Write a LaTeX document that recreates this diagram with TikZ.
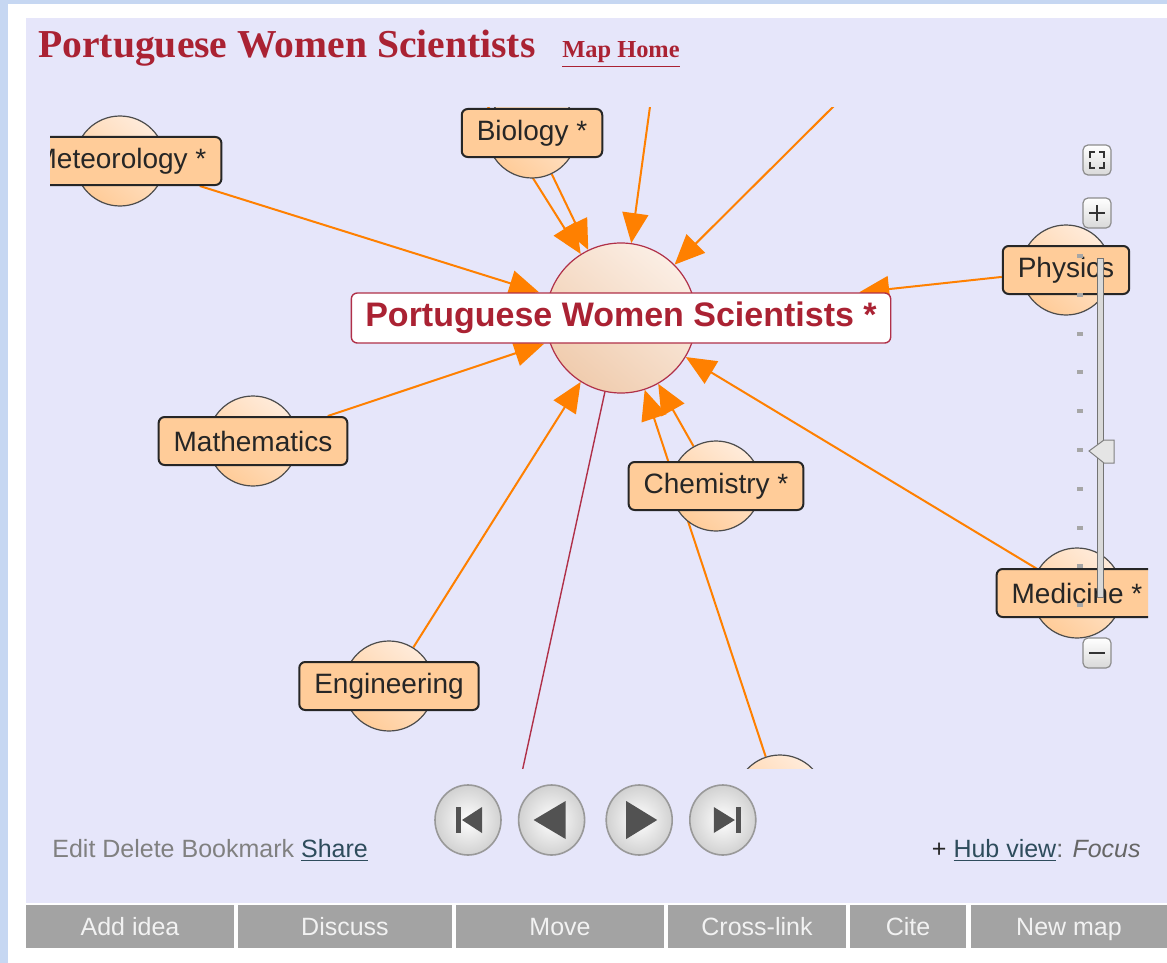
\documentclass[tikz,border=0pt]{standalone}
\usepackage{fontspec}
\setmainfont{Liberation Sans}
\newfontfamily\titlefont{Liberation Serif}
\usetikzlibrary{positioning,arrows.meta,shapes.geometric,calc}
\pgfdeclarelayer{backlayer}
\pgfdeclarelayer{edgelayer}
\pgfsetlayers{backlayer,edgelayer,main}
\definecolor{pagebg}{HTML}{C6D7F2}
\definecolor{panel}{HTML}{E6E6FA}
\definecolor{hubred}{HTML}{AA2233}
\definecolor{linkorange}{HTML}{FF8000}
\definecolor{peach}{HTML}{FFCC99}
\definecolor{peachlight}{HTML}{FFEBDA}
\definecolor{hubdark}{HTML}{F0CCAE}
\definecolor{hublight}{HTML}{FBEEE4}
\definecolor{crossred}{HTML}{B03048}
\definecolor{btngray}{HTML}{A3A3A3}
\definecolor{linkblue}{HTML}{2E4C5C}
\tikzset{
  topic/.style={circle, draw=black!70, line width=0.6pt, minimum size=45pt,
    inner sep=0pt, top color=peachlight, bottom color=peach, shading angle=-40},
  tag/.style={draw=black!85, line width=1pt, rounded corners=3pt, fill=peach,
    text=black!85, font=\fontsize{14}{16}\selectfont,
    minimum height=24pt, inner xsep=7.5pt, inner ysep=0pt},
  hubdisc/.style={circle, draw=crossred, line width=0.6pt, minimum size=75pt,
    inner sep=0pt, top color=hublight, bottom color=hubdark, shading angle=-40},
  hubtag/.style={draw=crossred, line width=0.7pt, rounded corners=3pt, fill=white,
    text=hubred, font=\bfseries\fontsize{17}{20}\selectfont,
    minimum height=25pt, inner xsep=7pt, inner ysep=0pt},
  link/.style={draw=linkorange, line width=1pt,
    -{Triangle[length=15pt,width=13pt]}},
  crosslink/.style={draw=crossred, line width=0.7pt},
  heading/.style={anchor=base west, inner sep=0pt, text=hubred,
    font=\titlefont\bfseries\fontsize{19.8}{22}\selectfont},
  maplink/.style={inner sep=0pt, text=hubred,
    font=\titlefont\bfseries\fontsize{12.2}{14}\selectfont},
  navball/.style={ellipse, minimum width=33pt, minimum height=35pt, inner sep=0pt,
    draw=black!40, line width=0.8pt, inner color=white, outer color=black!18},
  navicon/.style={fill=black!68},
  zoombtn/.style={rectangle, rounded corners=2.5pt, minimum width=14pt,
    minimum height=15pt, draw=black!45, line width=0.6pt,
    top color=white, bottom color=black!15},
  bottomtext/.style={inner sep=0pt, font=\fontsize{12.5}{14}\selectfont},
  toolbtn/.style={anchor=base, inner sep=0pt, text=white!95!black,
    font=\fontsize{12.5}{14}\selectfont}
}
\begin{document}
\begin{tikzpicture}[x=0.5pt, y=-0.5pt]
\useasboundingbox (0,0) rectangle (1167,963);
\begin{pgfonlayer}{backlayer}
  \fill[pagebg] (0,0) rectangle (1167,963);
  \fill[white] (8,4) rectangle (1167,963);
  \fill[panel] (26,18) rectangle (1167,903);
\end{pgfonlayer}
%
\node[heading] (title) at (38,58) {Portuguese Women Scientists};
\node[maplink, base right=13pt of title] (maphome) {\underline{Map Home}};
%
\begin{scope}
  \clip (50,108) rectangle (1148,768);
  \node[hubdisc] (hub) at (621,318) {};
  \node[hubtag] (hubtag) at (621,318) {Portuguese Women Scientists *};
  \node[topic] (meteo) at (120,161) {};
  \node[tag] (meteotag) at (120,161) {Meteorology *};
  \node[topic] (bio) at (532,133) {};
  \node[tag] (biotag) at (532,133) {Biology *};
  \node[topic] (math) at (253,441) {};
  \node[tag] (mathtag) at (253,441) {Mathematics};
  \node[topic] (engi) at (389,686) {};
  \node[tag] (engitag) at (389,686) {Engineering};
  \node[topic] (chem) at (716,486) {};
  \node[tag] (chemtag) at (716,486) {Chemistry *};
  \node[topic] (phys) at (1066,270) {};
  \node[tag] (phystag) at (1066,270) {Physics};
  \node[topic] (medi) at (1077,593) {};
  \node[tag] (meditag) at (1077,593) {Medicine *};
  \node[topic] (lower) at (780,800) {};
  \coordinate (upleft) at (480,94);
  \coordinate (upmid) at (652,92);
  \coordinate (upright) at (850,90);
  \coordinate (downleft) at (519,786);
\end{scope}
%
\begin{pgfonlayer}{edgelayer}
\begin{scope}
  \clip (50,108) rectangle (1148,768);
  \draw[link] (meteotag) -- (hubtag);
  \draw[link] (upleft) -- (hub);
  \draw[link] (bio) -- (hub);
  \draw[link] (upmid) -- (hub);
  \draw[link] (upright) -- (hub);
  \draw[link] (phystag) -- (hubtag);
  \draw[link] (mathtag) -- (hubtag);
  \draw[link] (engi) -- (hub);
  \draw[link] (chem) -- (hub);
  \draw[link] (lower) -- (hub);
  \draw[link] (medi) -- (hub);
  \draw[crosslink] (hub) -- (downleft);
\end{scope}
\end{pgfonlayer}
%
% zoom control
\node[zoombtn] (fullbtn) at (1097,160) {};
\foreach \sx/\sy in {1/1,1/-1,-1/1,-1/-1}
  \draw[black!80, line width=1pt] ($(fullbtn)+({\sx*7},{\sy*2})$) -- ++(0,{\sy*6}) -- ++({-\sx*5},0);
\node[zoombtn] (plusbtn) at (1097,213) {};
\draw[black!80, line width=1pt] (plusbtn.center) +(-8,0) -- +(8,0) (plusbtn.center) +(0,-8) -- +(0,8);
\draw[black!55, fill=black!15, line width=0.5pt] (1097,258) rectangle (1103,597);
\foreach \k in {0,...,9}
  \fill[black!35] (1077,{254+38.8*\k}) rectangle ++(6,4);
\filldraw[fill=black!10, draw=black!50, line width=0.5pt]
  (1089,451) -- (1104,440) -- (1114,440) -- (1114,463) -- (1104,463) -- cycle;
\node[zoombtn] (minusbtn) at (1097,653) {};
\draw[black!80, line width=1pt] (minusbtn.center) +(-8,0) -- +(8,0);
%
% navigation
\node[navball] (navfirst) at (468,820) {};
\node[navball, right=8pt of navfirst] (navprev) {};
\node[navball, right=10pt of navprev] (navnext) {};
\node[navball, right=8pt of navnext] (navlast) {};
\fill[navicon] ($(navfirst)+(-12,-13)$) rectangle ++(5,26);
\fill[navicon] ($(navfirst)+(-6,0)$) -- ++(20,-13) -- ++(0,26) -- cycle;
\fill[navicon] ($(navprev)+(-18,0)$) -- ++(32,-19) -- ++(0,38) -- cycle;
\fill[navicon] ($(navnext)+(18,0)$) -- ++(-31,-19) -- ++(0,38) -- cycle;
\fill[navicon] ($(navlast)+(12,0)$) -- ++(-21,-13) -- ++(0,26) -- cycle;
\fill[navicon] ($(navlast)+(13,-13)$) rectangle ++(5,26);
%
\node[bottomtext, anchor=base west, text=black!50] (tools) at (52,857)
  {Edit Delete Bookmark \textcolor{linkblue}{\underline{Share}}};
\node[bottomtext, anchor=base east, text=black!60] (hubview) at (1141,857)
  {\textcolor{black!85}{+} \textcolor{linkblue}{\underline{Hub view}}: \textit{Focus}};
%
\foreach \a/\b/\t [count=\k] in {26/234/Add idea, 238/452/Discuss, 456/664/Move,
    668/846/Cross-link, 850/966/Cite, 971/1167/New map} {
  \fill[btngray] (\a,905) rectangle (\b,948);
  \node[toolbtn] (btn\k) at ({(\a+\b)/2},935) {\t};
}
\end{tikzpicture}
\end{document}
